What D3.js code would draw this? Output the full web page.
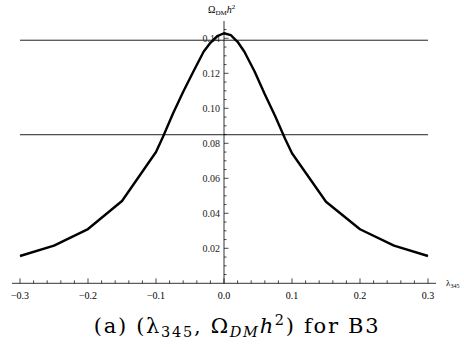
<!DOCTYPE html>
<html>
<head>
<meta charset="utf-8">
<script src="https://cdn.jsdelivr.net/npm/d3@7"></script>
<style>
  body { margin: 0; background: #fff; }
  text { font-family: "Liberation Serif", "Times New Roman", serif; }
  .caption { font-family: "DejaVu Serif", serif; letter-spacing: 1.7px; }
</style>
</head>
<body>
<svg id="chart" width="464" height="347"></svg>
<script>
/* global d3 */

const lambda345 = [-0.3, -0.25, -0.2, -0.15, -0.1, -0.09, -0.075, -0.06, -0.045, -0.03, -0.02, -0.01, 0,
  0.01, 0.02, 0.03, 0.045, 0.06, 0.075, 0.09, 0.1, 0.15, 0.2, 0.25, 0.3]
const omegaH2 = [0.0156, 0.0215, 0.031, 0.047, 0.075, 0.0835, 0.097, 0.1095, 0.121, 0.1323, 0.1374, 0.1412, 0.1429,
  0.1418, 0.1380, 0.1323, 0.121, 0.108, 0.0958, 0.0825, 0.0743, 0.0466, 0.0309, 0.0215, 0.0156]
const boundLines = [0.0849, 0.1389]
const xTicks = [-0.3, -0.2, -0.1, 0.0, 0.1, 0.2, 0.3]
const yTicks = [0.02, 0.04, 0.06, 0.08, 0.10, 0.12, 0.14]

const svg = d3.select('#chart')

const x = d3.scaleLinear().domain([-0.3, 0.3]).range([20, 428])
const y = d3.scaleLinear().domain([0, 0.14]).range([283.3, 38.3])

const fmt = d => d3.format('.1f')(d).replace('-', '\u2212')
const fmtY = d => d3.format('.2f')(d)

// bound lines
svg.selectAll('.bound')
  .data(boundLines)
  .enter()
  .append('line')
  .attr('x1', x(-0.3))
  .attr('x2', x(0.3))
  .attr('y1', d => y(d))
  .attr('y2', d => y(d))
  .attr('stroke', '#222')
  .attr('stroke-width', 1)

// x axis
const xAxisG = svg.append('g')
xAxisG.append('line')
  .attr('x1', 12).attr('x2', 436)
  .attr('y1', y(0)).attr('y2', y(0))
  .attr('stroke', '#000').attr('stroke-width', 0.8)
xAxisG.selectAll('.minor')
  .data(d3.range(-0.3, 0.3001, 0.02))
  .enter()
  .append('line')
  .attr('x1', d => x(d)).attr('x2', d => x(d))
  .attr('y1', y(0)).attr('y2', d => {
    const major = Math.abs(Math.round(d * 10) - d * 10) < 1e-6
    return y(0) - (major ? 5 : 3)
  })
  .attr('stroke', '#000').attr('stroke-width', 0.7)
xAxisG.selectAll('.lbl')
  .data(xTicks)
  .enter()
  .append('text')
  .attr('x', d => x(d))
  .attr('y', 299)
  .attr('text-anchor', 'middle')
  .attr('font-size', 10)
  .text(fmt)

// y axis
const yAxisG = svg.append('g')
yAxisG.append('line')
  .attr('x1', x(0)).attr('x2', x(0))
  .attr('y1', y(0)).attr('y2', 21)
  .attr('stroke', '#000').attr('stroke-width', 0.8)
yAxisG.selectAll('.minor')
  .data(d3.range(0.005, 0.1485, 0.005))
  .enter()
  .append('line')
  .attr('y1', d => y(d)).attr('y2', d => y(d))
  .attr('x1', x(0)).attr('x2', d => {
    const major = Math.abs(Math.round(d * 50) - d * 50) < 1e-6
    return x(0) + (major ? 4.5 : 2.5)
  })
  .attr('stroke', '#000').attr('stroke-width', 0.7)
yAxisG.selectAll('.lbl')
  .data(yTicks)
  .enter()
  .append('text')
  .attr('x', x(0) - 4)
  .attr('y', d => y(d) + 3.5)
  .attr('text-anchor', 'end')
  .attr('font-size', 10)
  .attr('fill', '#222')
  .text(fmtY)

// curve
const line = d3.line()
  .x(d => x(d[0]))
  .y(d => y(d[1]))
  .curve(d3.curveLinear)

svg.append('path')
  .datum(d3.zip(lambda345, omegaH2))
  .attr('d', line)
  .attr('fill', 'none')
  .attr('stroke', '#000')
  .attr('stroke-width', 2.4)
  .attr('stroke-linejoin', 'round')

// axis titles
const yTitle = svg.append('text')
  .attr('x', 208)
  .attr('y', 13)
  .attr('font-size', 10)
yTitle.append('tspan').text('\u03a9')
yTitle.append('tspan').attr('font-size', 7).attr('dy', 2).text('DM')
yTitle.append('tspan').attr('dy', -2).attr('font-style', 'italic').text('h')
yTitle.append('tspan').attr('font-size', 7).attr('dy', -4).text('2')

const xTitle = svg.append('text')
  .attr('x', 446)
  .attr('y', 286)
  .attr('font-size', 9)
xTitle.append('tspan').text('\u03bb')
xTitle.append('tspan').attr('font-size', 6).attr('dy', 2).text('345')

// caption
const cap = svg.append('text')
  .attr('class', 'caption')
  .attr('x', 237)
  .attr('y', 333)
  .attr('text-anchor', 'middle')
  .attr('font-size', 21)
cap.append('tspan').text('(a) (\u03bb')
cap.append('tspan').attr('font-size', 14.5).attr('dy', 4).text('345')
cap.append('tspan').attr('dy', -4).text(', \u03a9')
cap.append('tspan').attr('font-size', 14.5).attr('dy', 4).attr('font-style', 'italic').text('DM')
cap.append('tspan').attr('dy', -4).attr('font-style', 'italic').text('h')
cap.append('tspan').attr('font-size', 14.5).attr('dy', -8).text('2')
cap.append('tspan').attr('dy', 8).text(') for B3')
</script>
</body>
</html>
